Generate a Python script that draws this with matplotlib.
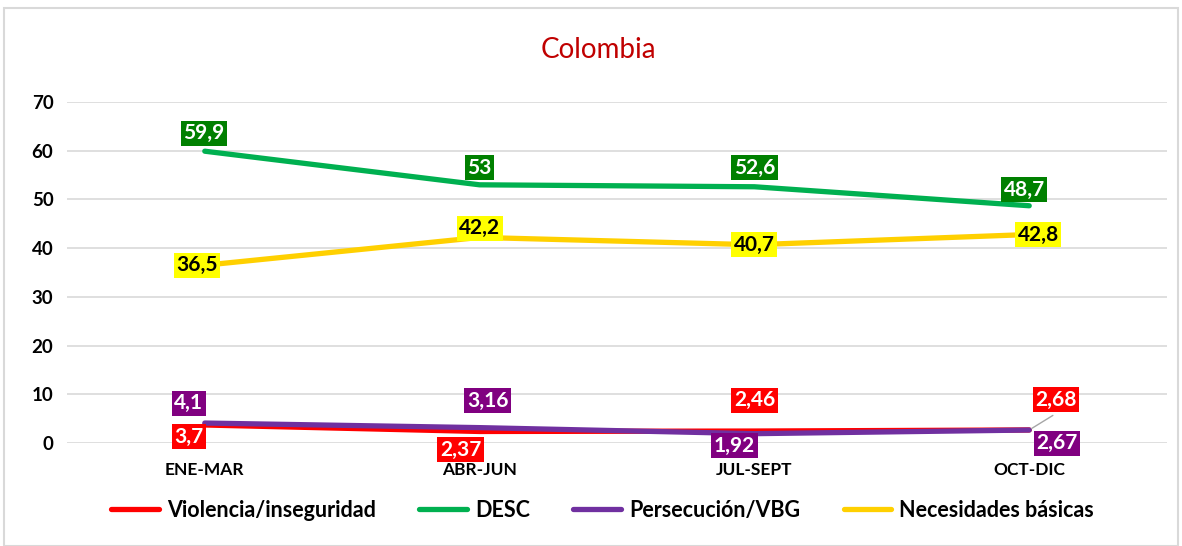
import numpy as np
import matplotlib.pyplot as plt
from matplotlib.patches import Rectangle

plt.rcParams['font.family'] = ['Lato', 'DejaVu Sans']

periodos = ['ENE-MAR', 'ABR-JUN', 'JUL-SEPT', 'OCT-DIC']
violencia = [3.7, 2.37, 2.46, 2.68]
desc = [59.9, 53, 52.6, 48.7]
persecucion = [4.1, 3.16, 1.92, 2.67]
necesidades = [36.5, 42.2, 40.7, 42.8]

# offsets de las etiquetas (pixeles)
offViolencia = [(-16, -12), (-19, -18), (0, 31), (27, 30)]
offDesc = [(-1, 18), (0, 17), (0, 19), (-5, 16)]
offPersecucion = [(-16, 20), (8, 27), (-20, -12), (28, -13)]
offNecesidades = [(-8, 0), (0, 9), (0, 0), (9, 0)]

fig = plt.figure(figsize=(11.82, 5.46), dpi=100)
ax = fig.add_axes([0.057, 0.1886, 0.930, 0.6246])

x = np.arange(len(periodos))

series = [
    ('Violencia/inseguridad', violencia, '#FF0000', '#FF0000', 'white', offViolencia),
    ('DESC', desc, '#00B050', '#008000', 'white', offDesc),
    ('Persecución/VBG', persecucion, '#7030A0', '#800080', 'white', offPersecucion),
    ('Necesidades básicas', necesidades, '#FFD000', '#FFFF00', 'black', offNecesidades),
]

for name, vals, lineColor, boxColor, txtColor, offs in series:
    ax.plot(x, vals, color=lineColor, lw=3.8, solid_capstyle='round', label=name, zorder=3)

for name, vals, lineColor, boxColor, txtColor, offs in series:
    for i, v in enumerate(vals):
        lbl = ('%g' % v).replace('.', ',')
        ax.annotate(lbl, (x[i], v), xytext=offs[i], textcoords='offset pixels',
                    ha='center', va='center', fontsize=15, fontweight='bold',
                    color=txtColor, zorder=5,
                    bbox=dict(boxstyle='square,pad=0.12', fc=boxColor, ec='none'))

# linea guia de la etiqueta 2,68
ax.annotate('', (x[3], violencia[3]), xytext=(26, 16), textcoords='offset pixels',
            arrowprops=dict(arrowstyle='-', color='#A6A6A6', lw=1), zorder=4)

ax.set_xlim(-0.5, 3.5)
ax.set_ylim(0, 70)
ax.set_yticks(range(0, 71, 10))
ax.set_xticks(x)
ax.set_xticklabels(periodos, fontsize=12.5, fontweight='bold')
for t in ax.get_yticklabels():
    t.set_fontsize(13.5)
    t.set_fontweight('bold')
ax.tick_params(length=0, pad=10)
ax.tick_params(axis='x', pad=14)
ax.grid(axis='y', color='#D9D9D9', lw=1.2)
ax.set_axisbelow(True)
for s in ax.spines.values():
    s.set_visible(False)

fig.text(0.506, 0.908, 'Colombia', ha='center', va='center', fontsize=20, color='#C00000')

leg = fig.legend(loc='center', bbox_to_anchor=(0.51, 0.065), ncol=4, frameon=False,
                 prop={'size': 15.5, 'weight': 'bold'}, handlelength=2.2, columnspacing=2.0,
                 handletextpad=0.4)

fig.patches.append(Rectangle((0.003, 0.0), 0.994, 0.985, transform=fig.transFigure,
                             fill=False, ec='#D9D9D9', lw=1.5))

fig.savefig('out.png', dpi=100)
